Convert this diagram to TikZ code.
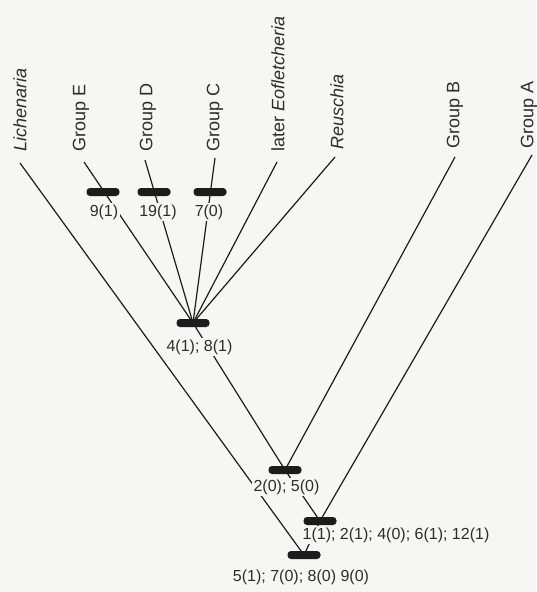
\documentclass[tikz,border=0pt]{standalone}
\usepackage{fontspec}
\setmainfont{Liberation Sans}

\pgfdeclarelayer{paperlayer}
\pgfdeclarelayer{edges}
\pgfsetlayers{paperlayer,edges,main}

\definecolor{paper}{RGB}{246,246,244}
\definecolor{ink}{RGB}{28,28,28}
\definecolor{txt}{RGB}{45,45,45}

\begin{document}
\begin{tikzpicture}[x=1pt,y=-1pt,
  taxon/.style={rotate=90,anchor=west,inner sep=0pt,text=txt,
    font=\fontsize{18}{18}\selectfont},
  charlabel/.style={fill=paper,inner sep=2pt,text=txt,
    font=\fontsize{16}{16}\selectfont},
  synapo/.style={fill=ink,rounded corners=3.5pt,minimum width=33pt,
    minimum height=8pt,inner sep=0pt},
  branch/.style={draw=ink,line width=1.2pt}]

\begin{pgfonlayer}{paperlayer}
  \fill[paper] (0,0) rectangle (536,592);
\end{pgfonlayer}
\path[use as bounding box] (0,0) rectangle (536,592);

% terminal taxa
\node[taxon] (Li) at (20,152) {\itshape Lichenaria};
\node[taxon] (GE) at (81,152) {Group E};
\node[taxon] (GD) at (148,152) {Group D};
\node[taxon] (GC) at (215,152) {Group C};
\node[taxon] (LE) at (278,152) {later \itshape Eofletcheria};
\node[taxon] (Re) at (337,150) {\itshape Reuschia};
\node[taxon] (GB) at (455,149) {Group B};
\node[taxon] (GA) at (529,149) {Group A};

% upper ends of the branches
\coordinate (tLi) at (20,163);
\coordinate (tE) at (84,162);
\coordinate (tD) at (145,160);
\coordinate (tC) at (215,158);
\coordinate (tL) at (277,162);
\coordinate (tR) at (335,157);
\coordinate (tB) at (455,157);
\coordinate (tA) at (532,155);

% character-state bars
\node[synapo] (b9)  at (103,192) {};
\node[synapo] (b19) at (154,192) {};
\node[synapo] (b7)  at (210,192) {};
\node[synapo] (n48) at (193,323) {};
\node[synapo] (n25) at (285,470) {};
\node[synapo] (nA)  at (320,521) {};
\node[synapo] (root) at (304,555) {};

% character labels
\node[charlabel] (l9)  at (104,212) {9(1)};
\node[charlabel] (l19) at (158,212) {19(1)};
\node[charlabel] (l7)  at (209,212) {7(0)};
\node[charlabel] (l48) at (199.5,347) {4(1); 8(1)};
\node[charlabel] (l25) at (286.5,487) {2(0); 5(0)};
\node[charlabel] (lA)  at (396,535) {1(1); 2(1); 4(0); 6(1); 12(1)};
\node[charlabel] (lr)  at (301,577) {5(1); 7(0); 8(0) 9(0)};

% branches
\begin{pgfonlayer}{edges}
  \draw[branch] (tLi) -- (root.center);
  \draw[branch] (tE) -- (n48.center);
  \draw[branch] (tD) -- (n48.center);
  \draw[branch] (tC) -- (n48.center);
  \draw[branch] (tL) -- (n48.center);
  \draw[branch] (tR) -- (n48.center);
  \draw[branch] (n48.center) -- (n25.center);
  \draw[branch] (tB) -- (n25.center);
  \draw[branch] (n25.center) -- (nA.center);
  \draw[branch] (tA) -- (nA.center);
  \draw[branch] (nA.center) -- (root.center);
\end{pgfonlayer}
\end{tikzpicture}
\end{document}
